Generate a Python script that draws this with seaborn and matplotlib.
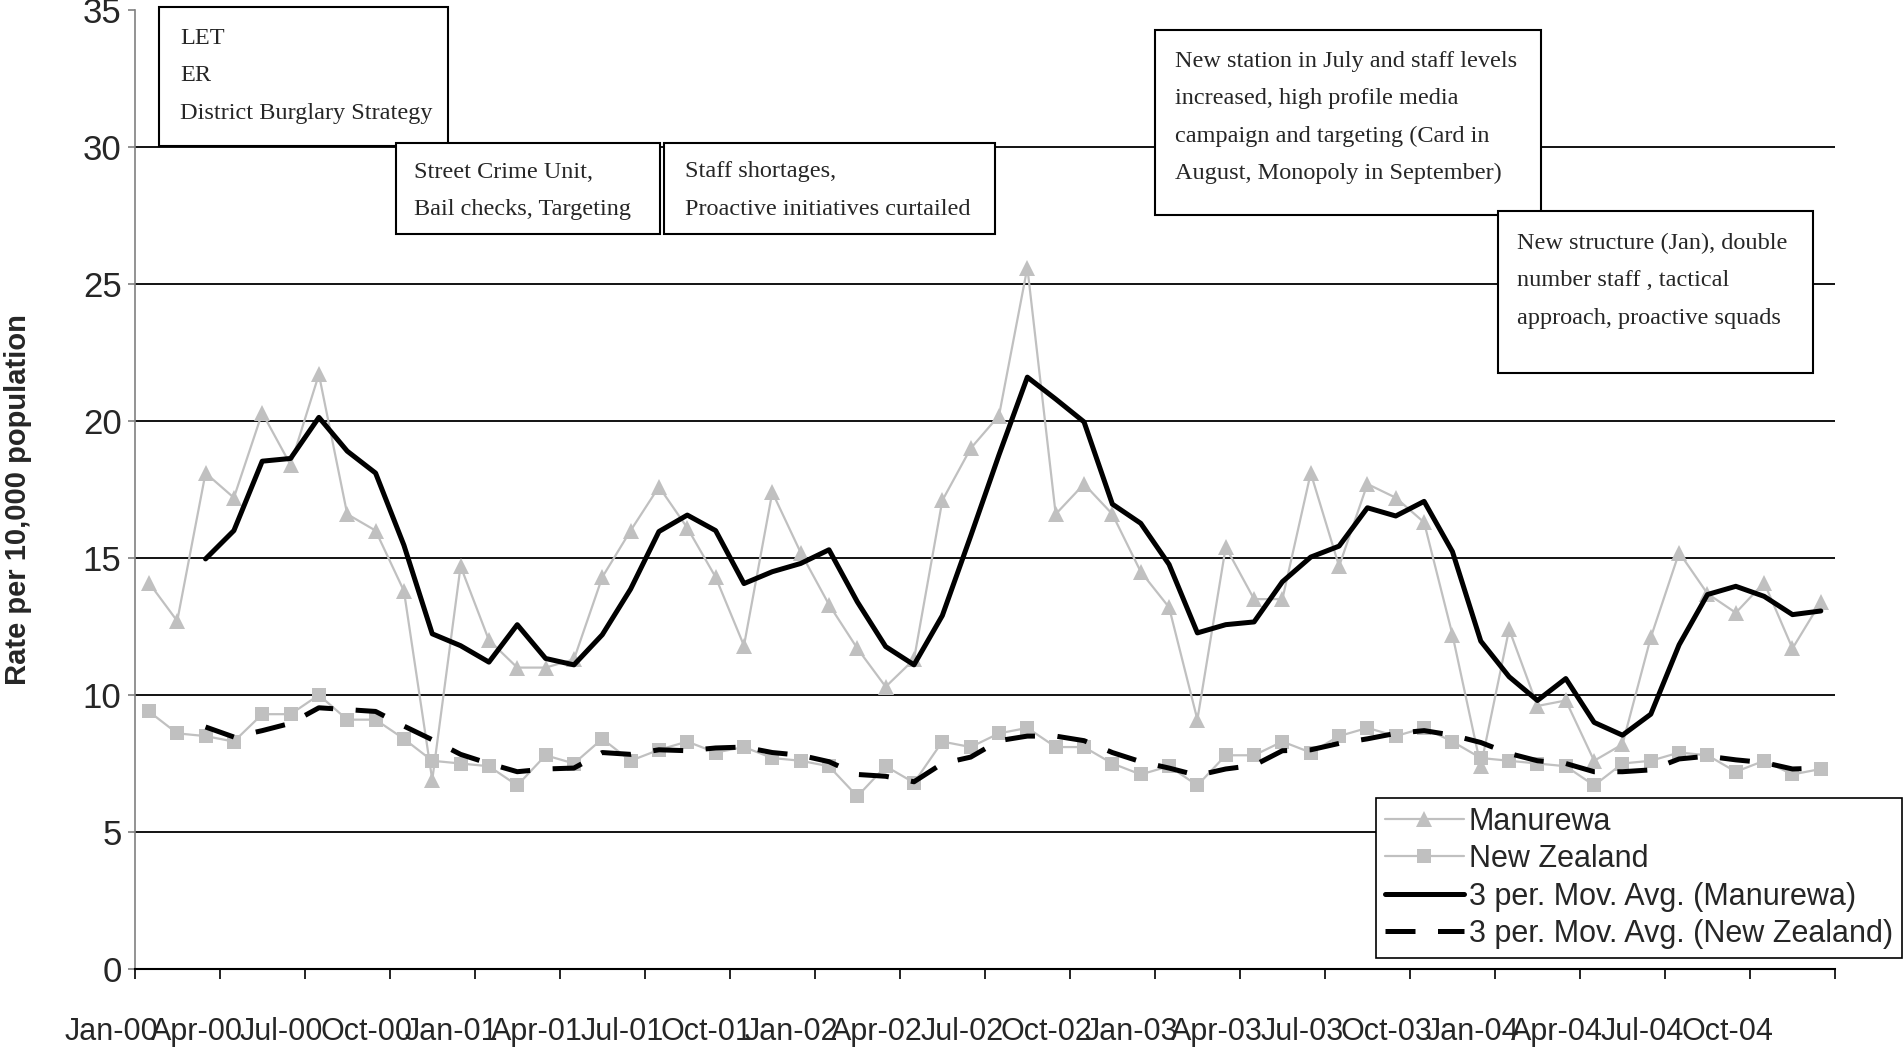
import numpy as np
import pandas as pd
import matplotlib
matplotlib.use("Agg")
import matplotlib.pyplot as plt
import seaborn as sns
from matplotlib.patches import Rectangle
from matplotlib.lines import Line2D
from matplotlib.transforms import ScaledTranslation


# data (monthly rate per 10,000 population, Jan-00 .. Dec-04)
months = pd.date_range("2000-01-01", periods=60, freq="MS").strftime("%b-%y")
manurewa = [14.1, 12.7, 18.1, 17.2, 20.3, 18.4, 21.7, 16.6, 16.0, 13.8,
            6.9, 14.7, 12.0, 11.0, 11.0, 11.3, 14.3, 16.0, 17.6, 16.1,
            14.3, 11.8, 17.4, 15.2, 13.3, 11.7, 10.3, 11.3, 17.1, 19.0,
            20.2, 25.6, 16.6, 17.7, 16.6, 14.5, 13.2, 9.1, 15.4, 13.5,
            13.5, 18.1, 14.7, 17.7, 17.2, 16.3, 12.2, 7.4, 12.4, 9.6,
            9.8, 7.6, 8.2, 12.1, 15.2, 13.7, 13.0, 14.1, 11.7, 13.4]
new_zealand = [9.4, 8.6, 8.5, 8.3, 9.3, 9.3, 10.0, 9.1, 9.1, 8.4,
               7.6, 7.5, 7.4, 6.7, 7.8, 7.5, 8.4, 7.6, 8.0, 8.3,
               7.9, 8.1, 7.7, 7.6, 7.4, 6.3, 7.4, 6.8, 8.3, 8.1,
               8.6, 8.8, 8.1, 8.1, 7.5, 7.1, 7.4, 6.7, 7.8, 7.8,
               8.3, 7.9, 8.5, 8.8, 8.5, 8.8, 8.3, 7.7, 7.6, 7.5,
               7.4, 6.7, 7.5, 7.6, 7.9, 7.8, 7.2, 7.6, 7.1, 7.3]
tick_labels = ["Jan-00", "Apr-00", "Jul-00", "Oct-00", "Jan-01", "Apr-01", "Jul-01",
               "Oct-01", "Jan-02", "Apr-02", "Jul-02", "Oct-02", "Jan-03", "Apr-03",
               "Jul-03", "Oct-03", "Jan-04", "Apr-04", "Jul-04", "Oct-04"]
legend_labels = ["Manurewa", "New Zealand", "3 per. Mov. Avg. (Manurewa)",
                 "3 per. Mov. Avg. (New Zealand)"]

notes = [
    ["LET", "ER", "District Burglary Strategy"],
    ["Street Crime Unit,", "Bail checks, Targeting"],
    ["Staff shortages,", "Proactive initiatives curtailed"],
    ["New station in July and staff levels", "increased, high profile media",
     "campaign and targeting (Card in", "August, Monopoly in September)"],
    ["New structure (Jan), double", "number staff , tactical",
     "approach, proactive squads"],
]

df = pd.DataFrame({"month": months, "pos": np.arange(len(months)) + 0.5,
                   "Manurewa": manurewa, "New Zealand": new_zealand})
# Excel-style 3 period moving average trendlines
df["ma_man"] = df["Manurewa"].rolling(3).mean()
df["ma_nz"] = df["New Zealand"].rolling(3).mean()

W, H = 1903, 1050
def fx(px):
    return px / W
def fy(py):
    return 1 - py / H

sns.set_theme(style="white")
plt.rcParams["font.family"] = ["Liberation Sans", "DejaVu Sans"]

fig = plt.figure(figsize=(W / 100, H / 100), dpi=100)
ax = fig.add_axes([fx(134.7), fy(969), (1835 - 134.7) / W, (969 - 10) / H])

gray = "#c0c0c0"
sns.lineplot(data=df, x="pos", y="Manurewa", ax=ax, color=gray, lw=1.6,
             marker="^", markersize=12, markeredgewidth=0, zorder=3)
sns.lineplot(data=df, x="pos", y="New Zealand", ax=ax, color=gray, lw=1.6,
             marker="s", markersize=10, markeredgewidth=0, zorder=3)
sns.lineplot(data=df.dropna(), x="pos", y="ma_man", ax=ax, color="black",
             lw=3.6, zorder=4)
sns.lineplot(data=df.dropna(), x="pos", y="ma_nz", ax=ax, color="black",
             lw=3.6, zorder=4)
dash = [6, 4.5]
ax.lines[-1].set_dashes(dash)

ax.set_xlim(0, 60)
ax.set_ylim(0, 35)
ax.set_xlabel("")
ax.set_ylabel("")

# x axis: tick marks every 3 months, labels sit left of the tick like the original
xt = np.arange(0, 61, 3)
ax.set_xticks(xt)
ax.set_xticklabels([])
ax.tick_params(axis="x", direction="out", length=7, width=1.2, color="black",
               bottom=True)
off = ScaledTranslation(-23 / 100, -48 / 100, fig.dpi_scale_trans)
for pos, lab in zip(xt, tick_labels):
    ax.text(pos, 0, lab, transform=ax.get_xaxis_transform() + off,
            ha="center", va="top", fontsize=22, clip_on=False)

ax.set_yticks(np.arange(0, 36, 5))
ax.tick_params(axis="y", direction="out", length=5, width=1.2, color="#808080",
               pad=4.5, labelsize=25, left=True)

ax.yaxis.grid(True, color="black", lw=1.3)
ax.get_ygridlines()[-1].set_visible(False)
ax.set_axisbelow(True)

for s in ["top", "right"]:
    ax.spines[s].set_visible(False)
ax.spines["left"].set_color("#808080")
ax.spines["left"].set_linewidth(1.2)
ax.spines["bottom"].set_color("black")
ax.spines["bottom"].set_linewidth(1.5)

fig.text(fx(18), fy(500), "Rate per 10,000 population", rotation=90,
         ha="center", va="center", fontsize=21, fontweight="bold")

# legend
handles = [
    Line2D([], [], color=gray, lw=1.6, marker="^", markersize=12, markeredgewidth=0),
    Line2D([], [], color=gray, lw=1.6, marker="s", markersize=10, markeredgewidth=0),
    Line2D([], [], color="black", lw=3.6),
    Line2D([], [], color="black", lw=3.6, dashes=dash),
]
leg = ax.legend(handles, legend_labels, loc="lower right",
                bbox_to_anchor=(fx(1902), fy(958)), bbox_transform=fig.transFigure,
                fontsize=22, frameon=True, fancybox=False, framealpha=1,
                edgecolor="black", handlelength=2.6, handletextpad=0.15,
                labelspacing=0.24, borderpad=0.3, borderaxespad=0)
leg.get_frame().set_linewidth(1.2)
leg.set_zorder(10)

# annotation boxes: (left, top, right, bottom) in pixels, text left, first line y
boxes = [
    (159, 7, 448, 146, 180, 38),
    (396, 143, 660, 234, 414, 172),
    (664, 143, 995, 234, 685, 172),
    (1155, 30, 1541, 215, 1175, 61),
    (1498, 211, 1813, 373, 1517, 243),
]
for (x0, y0, x1, y1, tx, ty), lines in zip(boxes, notes):
    fig.add_artist(Rectangle((fx(x0), fy(y1)), (x1 - x0) / W, (y1 - y0) / H,
                             transform=fig.transFigure, facecolor="white",
                             edgecolor="black", lw=1.5, zorder=5))
    for k, line in enumerate(lines):
        fig.text(fx(tx), fy(ty + k * 37.6), line, ha="left", va="center",
                 fontsize=17.5, family=["Liberation Serif", "DejaVu Serif"],
                 zorder=6)

fig.savefig("out.png", dpi=100)
